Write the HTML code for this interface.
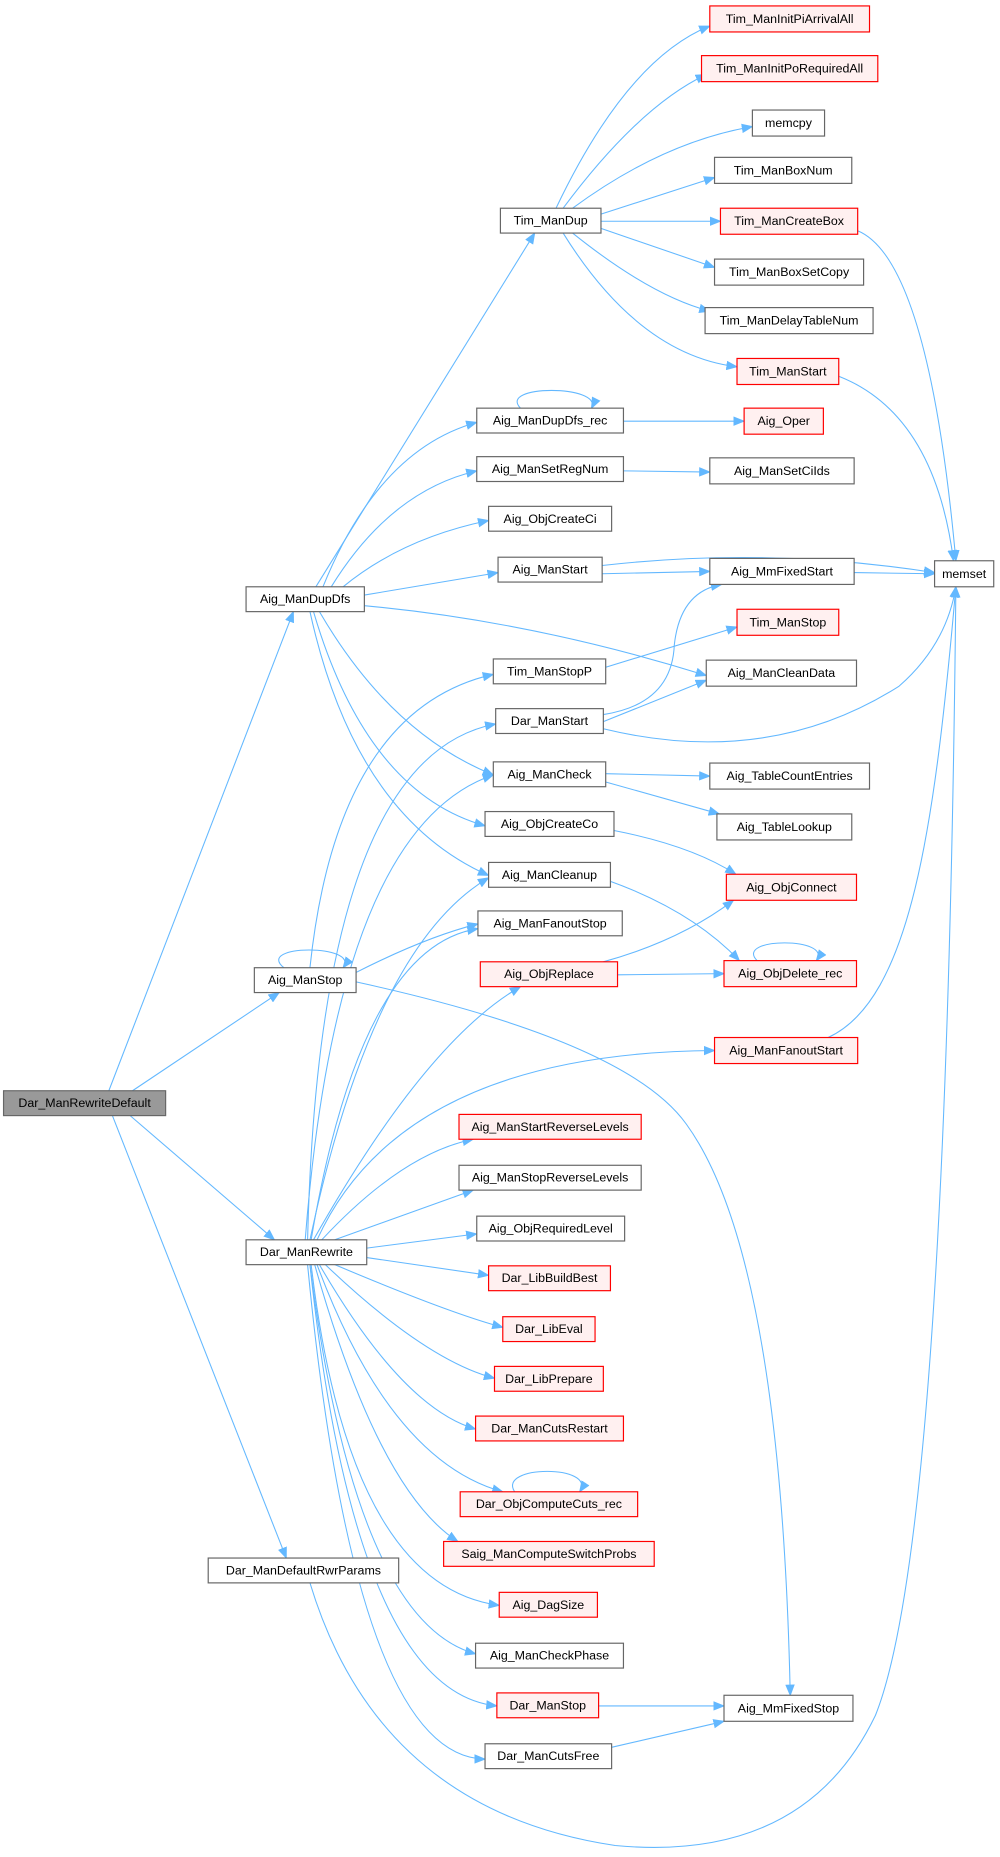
<!DOCTYPE html>
<html><head><meta charset="utf-8"><style>html,body{margin:0;padding:0;background:#fff}svg{display:block}</style></head>
<body>
<svg width="1000" height="1857" viewBox="0 0 845.3 1569.7" xmlns="http://www.w3.org/2000/svg" font-family="Liberation Sans, Arial, sans-serif" font-size="10.5">
<defs><marker id="a" markerWidth="10" markerHeight="8" refX="9" refY="4" orient="auto" markerUnits="userSpaceOnUse"><path d="M0,0 L10,4 L0,8 z" fill="#63b8ff"/></marker></defs>
<g fill="none" stroke="#63b8ff" stroke-width="0.9" marker-end="url(#a)">
<path d="M92,922 L248,517"/>
<path d="M112,922 L236,839"/>
<path d="M110,943 L232,1048"/>
<path d="M95,943 L242,1317"/>
<path d="M267,496 L452,197"/>
<path d="M273,496 Q320,380 403,357"/>
<path d="M280,496 Q330,415 403,398"/>
<path d="M290,496 Q340,455 413,440"/>
<path d="M308,503 L421,484"/>
<path d="M308,512 Q450,525 597,571"/>
<path d="M270,517 Q330,620 417,655"/>
<path d="M265,517 Q310,670 410,698"/>
<path d="M262,517 Q300,690 413,740"/>
<path d="M470,176 Q530,50 600,22"/>
<path d="M476,176 Q540,90 597,63"/>
<path d="M484,176 Q560,120 636,107"/>
<path d="M508,181 L604,150"/>
<path d="M508,187 L609,187"/>
<path d="M508,193 L604,226"/>
<path d="M484,197 Q550,250 600,263"/>
<path d="M476,197 Q540,300 623,310"/>
<path d="M725,195 Q785,220 808,474"/>
<path d="M709,318 Q790,350 806,474"/>
<path d="M440,345 C420,325 510,325 500,345"/>
<path d="M527,356 L629,356"/>
<path d="M527,398 L600,399"/>
<path d="M509,478 Q650,462 790,484"/>
<path d="M509,485 L600,483"/>
<path d="M722,484 L790,485"/>
<path d="M512,564 L623,530"/>
<path d="M510,604 Q568,595 570,545 Q575,500 610,494"/>
<path d="M510,610 L597,575"/>
<path d="M510,616 Q650,650 760,580 Q800,545 808,496"/>
<path d="M512,654 L600,656"/>
<path d="M512,661 L608,688"/>
<path d="M519,702 Q585,715 622,739"/>
<path d="M516,745 Q585,770 625,812"/>
<path d="M510,813 Q575,795 620,761"/>
<path d="M522,824 L612,823"/>
<path d="M640,812 C620,792 705,792 690,812"/>
<path d="M700,877 C770,845 790,700 808,496"/>
<path d="M240,818 C215,798 305,798 290,818"/>
<path d="M262,818 Q285,600 417,570"/>
<path d="M301,822 Q360,792 404,781"/>
<path d="M301,830 Q530,880 580,950 Q660,1060 668,1433"/>
<path d="M258,1048 Q285,700 417,655"/>
<path d="M260,1048 Q270,640 419,612"/>
<path d="M265,1048 Q360,880 440,834"/>
<path d="M262,1048 Q315,800 413,742"/>
<path d="M263,1048 Q305,800 404,785"/>
<path d="M268,1048 Q340,890 604,888"/>
<path d="M272,1048 Q340,975 400,963"/>
<path d="M283,1048 L400,1006"/>
<path d="M310,1055 L403,1043"/>
<path d="M310,1063 L413,1078"/>
<path d="M283,1069 Q380,1110 425,1122"/>
<path d="M275,1069 Q360,1150 418,1165"/>
<path d="M270,1069 Q340,1190 402,1208"/>
<path d="M268,1069 Q330,1235 425,1261"/>
<path d="M266,1069 Q320,1260 387,1303"/>
<path d="M263,1069 Q295,1340 422,1357"/>
<path d="M262,1069 Q300,1370 402,1398"/>
<path d="M262,1069 Q300,1430 420,1442"/>
<path d="M260,1069 Q300,1485 410,1487"/>
<path d="M506,1442 L612,1442"/>
<path d="M517,1477 L612,1455"/>
<path d="M435,1261 C420,1238 505,1238 490,1261"/>
<path d="M262,1338 Q320,1530 520,1560 Q680,1575 740,1450 Q800,1300 808,496"/>
</g>
<g stroke-width="1">
<rect x="3" y="922" width="137" height="21" fill="#999" stroke="#666"/>
<g fill="#fff" stroke="#666">
<rect x="208" y="496" width="100" height="21"/>
<rect x="215" y="818" width="86" height="21"/>
<rect x="208" y="1048" width="102" height="21"/>
<rect x="176" y="1317" width="161" height="21"/>
<rect x="423" y="176" width="85" height="21"/>
<rect x="403" y="345" width="124" height="21"/>
<rect x="403" y="386" width="124" height="21"/>
<rect x="413" y="428" width="104" height="21"/>
<rect x="421" y="471" width="88" height="21"/>
<rect x="417" y="557" width="95" height="21"/>
<rect x="419" y="599" width="91" height="21"/>
<rect x="417" y="644" width="95" height="21"/>
<rect x="410" y="686" width="109" height="21"/>
<rect x="413" y="729" width="103" height="21"/>
<rect x="404" y="770" width="122" height="21"/>
<rect x="388" y="985" width="154" height="21"/>
<rect x="403" y="1028" width="125" height="21"/>
<rect x="402" y="1389" width="125" height="21"/>
<rect x="410" y="1474" width="107" height="21"/>
<rect x="636" y="93" width="61" height="22"/>
<rect x="604" y="133" width="116" height="22"/>
<rect x="604" y="219" width="126" height="22"/>
<rect x="596" y="260" width="142" height="22"/>
<rect x="600" y="387" width="122" height="22"/>
<rect x="600" y="472" width="122" height="22"/>
<rect x="597" y="558" width="127" height="22"/>
<rect x="600" y="645" width="135" height="22"/>
<rect x="606" y="688" width="114" height="22"/>
<rect x="612" y="1433" width="109" height="22"/>
<rect x="790" y="474" width="50" height="22"/>
</g>
<g fill="#fff0f0" stroke="#f00">
<rect x="406" y="813" width="116" height="21"/>
<rect x="388" y="942" width="154" height="21"/>
<rect x="413" y="1070" width="103" height="21"/>
<rect x="425" y="1113" width="78" height="21"/>
<rect x="418" y="1155" width="92" height="21"/>
<rect x="402" y="1197" width="125" height="21"/>
<rect x="389" y="1261" width="150" height="21"/>
<rect x="375" y="1303" width="178" height="21"/>
<rect x="422" y="1346" width="83" height="21"/>
<rect x="420" y="1431" width="86" height="21"/>
<rect x="600" y="5" width="135" height="22"/>
<rect x="593" y="47" width="149" height="22"/>
<rect x="609" y="176" width="116" height="22"/>
<rect x="623" y="303" width="86" height="22"/>
<rect x="629" y="345" width="67" height="22"/>
<rect x="623" y="515" width="86" height="22"/>
<rect x="614" y="739" width="110" height="22"/>
<rect x="612" y="812" width="112" height="22"/>
<rect x="604" y="877" width="121" height="22"/>
</g>
</g>
<g fill="#000" text-anchor="middle" dominant-baseline="central">
<text x="71.5" y="932.5">Dar_ManRewriteDefault</text>
<text x="258" y="506.5">Aig_ManDupDfs</text>
<text x="258" y="828.5">Aig_ManStop</text>
<text x="259" y="1058.5">Dar_ManRewrite</text>
<text x="256.5" y="1327.5">Dar_ManDefaultRwrParams</text>
<text x="465.5" y="186.5">Tim_ManDup</text>
<text x="465" y="355.5">Aig_ManDupDfs_rec</text>
<text x="465" y="396.5">Aig_ManSetRegNum</text>
<text x="465" y="438.5">Aig_ObjCreateCi</text>
<text x="465" y="481.5">Aig_ManStart</text>
<text x="464.5" y="567.5">Tim_ManStopP</text>
<text x="464.5" y="609.5">Dar_ManStart</text>
<text x="464.5" y="654.5">Aig_ManCheck</text>
<text x="464.5" y="696.5">Aig_ObjCreateCo</text>
<text x="464.5" y="739.5">Aig_ManCleanup</text>
<text x="465" y="780.5">Aig_ManFanoutStop</text>
<text x="464" y="823.5">Aig_ObjReplace</text>
<text x="465" y="952.5">Aig_ManStartReverseLevels</text>
<text x="465" y="995.5">Aig_ManStopReverseLevels</text>
<text x="465.5" y="1038.5">Aig_ObjRequiredLevel</text>
<text x="464.5" y="1080.5">Dar_LibBuildBest</text>
<text x="464" y="1123.5">Dar_LibEval</text>
<text x="464" y="1165.5">Dar_LibPrepare</text>
<text x="464.5" y="1207.5">Dar_ManCutsRestart</text>
<text x="464" y="1271.5">Dar_ObjComputeCuts_rec</text>
<text x="464" y="1313.5">Saig_ManComputeSwitchProbs</text>
<text x="463.5" y="1356.5">Aig_DagSize</text>
<text x="464.5" y="1399.5">Aig_ManCheckPhase</text>
<text x="463" y="1441.5">Dar_ManStop</text>
<text x="463.5" y="1484.5">Dar_ManCutsFree</text>
<text x="667.5" y="16">Tim_ManInitPiArrivalAll</text>
<text x="667.5" y="58">Tim_ManInitPoRequiredAll</text>
<text x="666.5" y="104">memcpy</text>
<text x="662" y="144">Tim_ManBoxNum</text>
<text x="667" y="187">Tim_ManCreateBox</text>
<text x="667" y="230">Tim_ManBoxSetCopy</text>
<text x="667" y="271">Tim_ManDelayTableNum</text>
<text x="666" y="314">Tim_ManStart</text>
<text x="662.5" y="356">Aig_Oper</text>
<text x="661" y="398">Aig_ManSetCiIds</text>
<text x="661" y="483">Aig_MmFixedStart</text>
<text x="666" y="526">Tim_ManStop</text>
<text x="660.5" y="569">Aig_ManCleanData</text>
<text x="667.5" y="656">Aig_TableCountEntries</text>
<text x="663" y="699">Aig_TableLookup</text>
<text x="669" y="750">Aig_ObjConnect</text>
<text x="668" y="823">Aig_ObjDelete_rec</text>
<text x="664.5" y="888">Aig_ManFanoutStart</text>
<text x="666.5" y="1444">Aig_MmFixedStop</text>
<text x="815" y="485">memset</text>
</g>
</svg>
</body></html>
